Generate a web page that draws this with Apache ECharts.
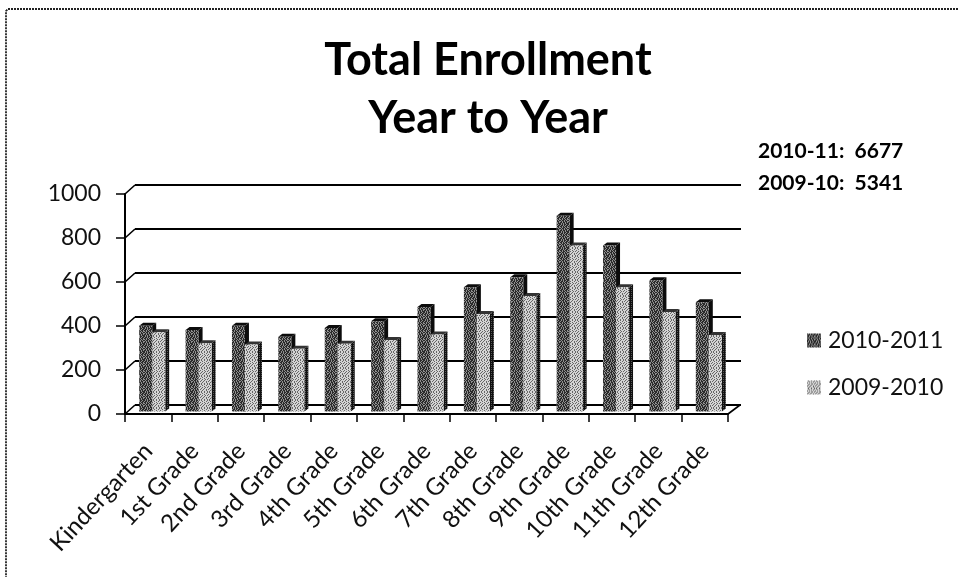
<!DOCTYPE html>
<html><head><meta charset="utf-8">
<style>html,body{margin:0;padding:0;background:#fff}#c{width:958px;height:577px}</style>
<script src="https://cdn.jsdelivr.net/npm/echarts@6/dist/echarts.min.js"></script>
</head><body><div id="c"></div>
<script>
const categories = ['Kindergarten','1st Grade','2nd Grade','3rd Grade','4th Grade','5th Grade','6th Grade','7th Grade','8th Grade','9th Grade','10th Grade','11th Grade','12th Grade'];
const enrollment2010 = [390,370,390,340,380,410,475,565,610,890,755,597,497];
const enrollment2009 = [360,310,305,285,308,325,350,443,525,755,565,452,348];
const yTicks = [0,200,400,600,800,1000];
const seriesNames = ['2010-2011','2009-2010'];
const totals = ['2010-11:  6677','2009-10:  5341'];

// halftone tiles imitating the scanned print
function tile(rows, dark, light){
  const c = document.createElement('canvas');
  c.width = rows[0].length; c.height = rows.length;
  const g = c.getContext('2d');
  rows.forEach((r,y)=>[...r].forEach((ch,x)=>{
    g.fillStyle = ch==='#'?dark:light; g.fillRect(x,y,1,1);
  }));
  return {image:c, repeat:'repeat'};
}
const darkFill = tile(['#.#.##.#','.##.#.##','##.#.##.','.#.##.#.','#.##.#.#','.#.#.##.','##.##.#.','#.#.#.##'],'#2a2a2a','#8f8f8f');
const lightFill = tile(['.#..#..#','..#...#.','#...#...','..#..#.#','.#..#...','#..#..#.','..#...#.','.#..#..#'],'#666','#d4d4d4');
const darkSide = '#0c0c0c';
const lightSide = tile(['##','#.'],'#111','#555');

const BAR_W = 13, DX = 4, DY = 3, SHIFT_X = 4, SHIFT_Y = 2.5;
function barRenderer(front, side, top, sign){
  return function(params, api){
    const p = api.coord([api.value(0), api.value(1)]);
    const b = api.coord([api.value(0), 0]);
    const x0 = p[0] + SHIFT_X + (sign<0 ? -BAR_W : 0), x1 = x0 + BAR_W;
    const yt = p[1] - SHIFT_Y, yb = b[1] - SHIFT_Y;
    return {type:'group', children:[
      {type:'polygon', shape:{points:[[x1,yt],[x1+DX,yt-DY],[x1+DX,yb-DY],[x1,yb]]}, style:{fill:side}},
      {type:'polygon', shape:{points:[[x0,yt],[x0+DX,yt-DY],[x1+DX,yt-DY],[x1,yt]]}, style:{fill:top}},
      {type:'rect', shape:{x:x0,y:yt,width:BAR_W,height:yb-yt}, style:{fill:front}}
    ]};
  };
}
const connectorData = yTicks.map(v=>[0,v]).concat([[categories.length,0]]);
function connectorRenderer(params, api){
  const p = api.coord([0, api.value(1)]);
  const isRight = api.value(0) > 0;
  const x = isRight ? params.coordSys.x + params.coordSys.width : params.coordSys.x;
  return {type:'line', shape:{x1:x,y1:p[1],x2:x+(isRight?12:10),y2:p[1]-9},
    style:{stroke:'#000',lineWidth:1.6,fill:null}};
}
const font = 'Lato, Carlito, "Open Sans", sans-serif';
const chart = echarts.init(document.getElementById('c'),null,{renderer:'canvas'});
chart.setOption({
  animation:false,
  backgroundColor:'#fff',
  title:{text:'Total Enrollment\nYear to Year',left:483,top:26,textAlign:'center',
    textStyle:{fontFamily:font,fontSize:45,fontWeight:'bold',color:'#000',lineHeight:58}},
  legend:{orient:'vertical',left:802,top:324,itemWidth:14,itemHeight:14,itemGap:24,icon:'rect',
    data:seriesNames,textStyle:{fontFamily:font,fontSize:23,color:'#111',padding:[0,0,0,2]}},
  grid:[
    {left:125,right:230,top:194,bottom:163},
    {left:135,right:217,top:185,bottom:172}
  ],
  xAxis:[
    {gridIndex:0,type:'category',data:categories,boundaryGap:true,
     axisLine:{show:true,lineStyle:{color:'#000',width:2}},
     axisTick:{show:true,length:8,alignWithLabel:false,lineStyle:{color:'#000',width:1.5}},
     axisLabel:{interval:0,rotate:47,margin:33,fontFamily:font,fontSize:24,color:'#111'}},
    {gridIndex:1,type:'category',data:categories,axisLine:{show:false},axisTick:{show:false},axisLabel:{show:false}}
  ],
  yAxis:[
    {gridIndex:0,type:'value',min:0,max:1000,interval:200,
     axisLine:{show:true,lineStyle:{color:'#000',width:2}},
     axisTick:{show:true,length:9,lineStyle:{color:'#000',width:1.5}},
     splitLine:{show:false},
     axisLabel:{margin:24,padding:[4,0,0,0],fontFamily:font,fontSize:23,color:'#111',formatter:v=>String(v)}},
    {gridIndex:1,type:'value',min:0,max:1000,interval:200,
     axisLine:{show:false},axisTick:{show:false},axisLabel:{show:false},
     splitLine:{show:true,lineStyle:{color:'#000',width:2}}}
  ],
  series:[
    {type:'custom',name:'connectors',xAxisIndex:0,yAxisIndex:0,data:connectorData,
      renderItem:connectorRenderer,encode:{x:0,y:1},z:1,silent:true,clip:false},
    {type:'custom',name:seriesNames[0],xAxisIndex:0,yAxisIndex:0,z:3,clip:false,
      itemStyle:{color:darkFill},encode:{x:0,y:1},
      data:enrollment2010.map((v,i)=>[i,v]),
      renderItem:barRenderer(darkFill,darkSide,darkSide,-1)},
    {type:'custom',name:seriesNames[1],xAxisIndex:0,yAxisIndex:0,z:4,clip:false,
      itemStyle:{color:lightFill},encode:{x:0,y:1},
      data:enrollment2009.map((v,i)=>[i,v]),
      renderItem:barRenderer(lightFill,lightSide,'#333',1)}
  ],
  graphic:[
    {type:'text',left:758,top:141,style:{text:totals[0],fontFamily:font,fontSize:21,fontWeight:'bold',fill:'#000'}},
    {type:'text',left:758,top:173,style:{text:totals[1],fontFamily:font,fontSize:21,fontWeight:'bold',fill:'#000'}},
    {type:'polyline',shape:{points:[[958,9],[8,9],[6,11],[6,577]]},style:{stroke:'#222',fill:null,lineWidth:1.8,lineDash:[2,1]}}
  ]
});
</script></body></html>
